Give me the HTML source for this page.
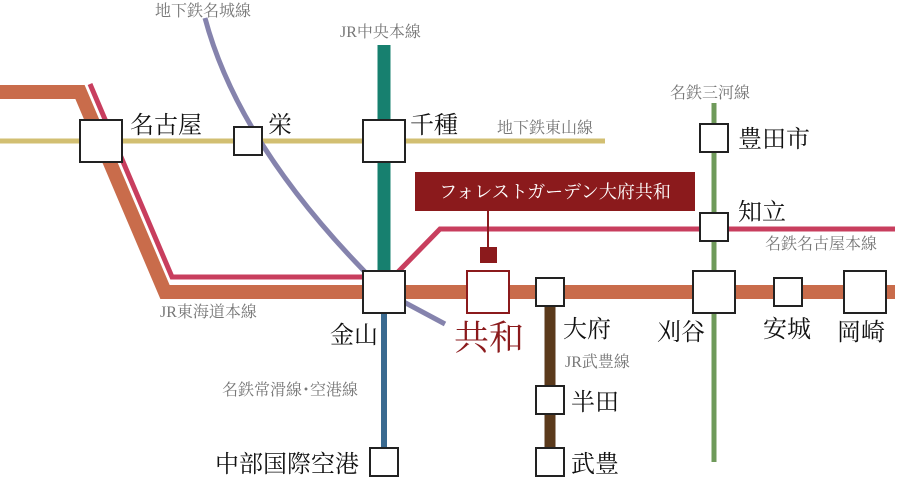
<!DOCTYPE html>
<html><head><meta charset="utf-8"><style>
html,body{margin:0;padding:0;background:#fff;}
svg text{font-family:"Liberation Serif","Noto Serif CJK SC","Noto Sans CJK JP",serif;}
</style></head><body>
<svg width="900" height="479" viewBox="0 0 900 479" xmlns="http://www.w3.org/2000/svg">
<line x1="0" y1="141" x2="605" y2="141" stroke="#d2bf72" stroke-width="5"/>
<polyline points="0,92 80,92 165,292 895,292" fill="none" stroke="#c96c4b" stroke-width="14" stroke-linejoin="miter"/>
<polyline points="90,84 172,277 384,277" fill="none" stroke="#c83e5e" stroke-width="5"/>
<polyline points="398,272 440,229 895,229" fill="none" stroke="#c83e5e" stroke-width="5"/>
<path d="M205,18 Q240,150 385,292 L445,324" fill="none" stroke="#8583ad" stroke-width="5"/>
<line x1="384" y1="45" x2="384" y2="292" stroke="#17806f" stroke-width="13"/>
<line x1="384" y1="292" x2="384" y2="452" stroke="#3a6a90" stroke-width="6"/>
<line x1="550" y1="292" x2="550" y2="455" stroke="#5b3a1c" stroke-width="11"/>
<line x1="714" y1="103" x2="714" y2="462" stroke="#6f9a5a" stroke-width="5"/>
<rect x="415" y="172" width="280" height="39" fill="#8b1a1c"/>
<text x="555" y="198" font-size="18" fill="#fff" text-anchor="middle">フォレストガーデン大府共和</text>
<line x1="488" y1="211" x2="488" y2="248" stroke="#8b1a1c" stroke-width="2"/>
<rect x="480" y="247" width="17" height="16" fill="#8b1a1c"/>
<g fill="#fff" stroke="#222" stroke-width="2">
<rect x="80" y="120" width="42" height="42"/>
<rect x="234" y="127" width="28" height="28"/>
<rect x="363" y="120" width="42" height="42"/>
<rect x="363" y="271" width="42" height="42"/>
<rect x="536" y="278" width="28" height="28"/>
<rect x="536" y="386" width="28" height="28"/>
<rect x="536" y="448" width="28" height="28"/>
<rect x="370" y="448" width="28" height="28"/>
<rect x="700" y="124" width="28" height="28"/>
<rect x="700" y="213" width="28" height="28"/>
<rect x="693" y="271" width="42" height="42"/>
<rect x="774" y="278" width="28" height="28"/>
<rect x="844" y="271" width="42" height="42"/>
</g>
<rect x="467" y="271" width="42" height="42" fill="#fff" stroke="#8b1a1c" stroke-width="2"/>
<g font-size="24" fill="#111">
<text x="130" y="133">名古屋</text>
<text x="268" y="133">栄</text>
<text x="410" y="133">千種</text>
<text x="738" y="147">豊田市</text>
<text x="738" y="220">知立</text>
<text x="330" y="343">金山</text>
<text x="563" y="337">大府</text>
<text x="657" y="340">刈谷</text>
<text x="763" y="337">安城</text>
<text x="837" y="340">岡崎</text>
<text x="571" y="410">半田</text>
<text x="571" y="472">武豊</text>
<text x="215" y="472">中部国際空港</text>
</g>
<text x="454" y="350" font-size="35" fill="#8b1a1c">共和</text>
<g font-size="16" fill="#777">
<text x="155" y="16">地下鉄名城線</text>
<text x="340" y="37">JR中央本線</text>
<text x="497" y="133">地下鉄東山線</text>
<text x="670" y="98">名鉄三河線</text>
<text x="765" y="249">名鉄名古屋本線</text>
<text x="160" y="317">JR東海道本線</text>
<text x="565" y="367">JR武豊線</text>
<text x="222" y="395">名鉄常滑線･空港線</text>
</g>
</svg>
</body></html>
